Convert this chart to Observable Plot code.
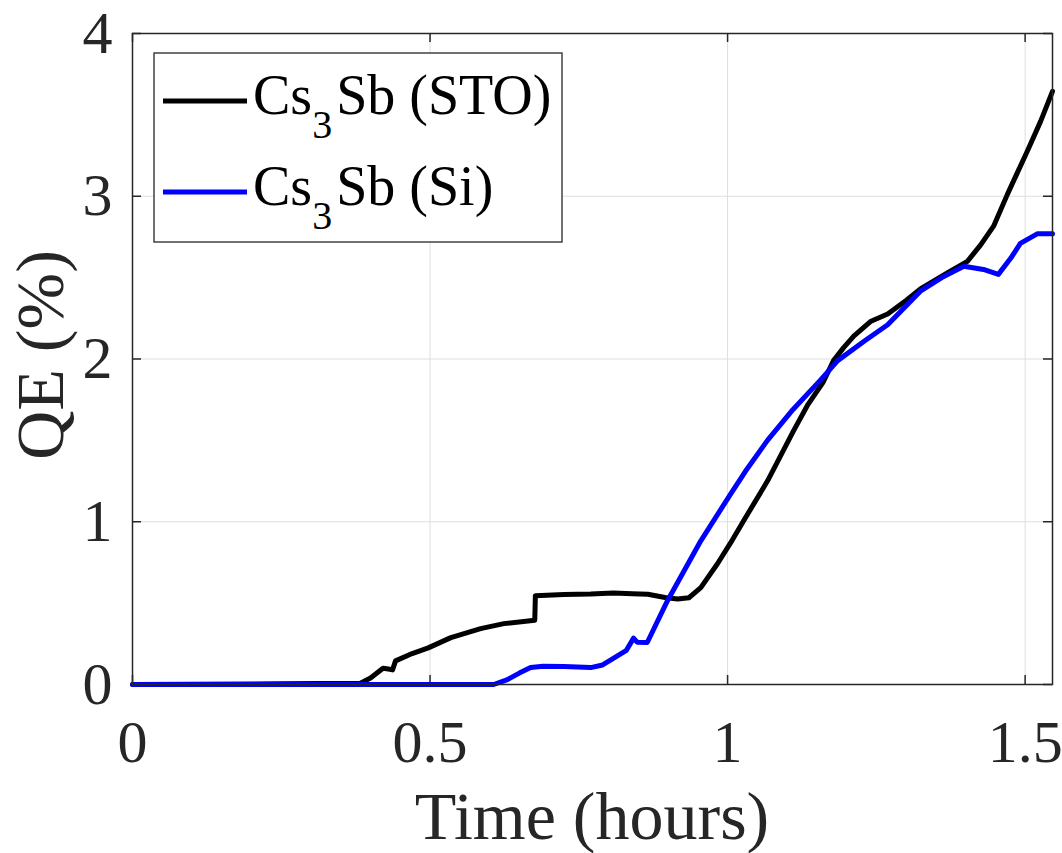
<!DOCTYPE html>
<html><head><meta charset="utf-8">
<script src="https://cdn.jsdelivr.net/npm/d3@7"></script>
<script src="https://cdn.jsdelivr.net/npm/@observablehq/plot@0.6"></script>
<style>body{margin:0;background:#fff}</style>
</head><body><div id="chart"></div>
<script>
// ---- data ----
const seriesNames = ["Cs3Sb (STO)", "Cs3Sb (Si)"];
const seriesColors = ["#000000", "#0000ff"];
const xTicks = [0, 0.5, 1, 1.5];
const yTicks = [0, 1, 2, 3, 4];
const xLabel = "Time (hours)";
const yLabel = "QE (%)";

const stoTime = [0,0.25,0.383,0.40,0.421,0.43,0.437,0.442,0.47,0.497,0.535,0.585,0.624,0.676,0.677,0.725,0.77,0.808,0.84,0.866,0.895,0.916,0.935,0.955,0.983,1.005,1.027,1.067,1.111,1.135,1.161,1.178,1.195,1.212,1.24,1.269,1.30,1.324,1.37,1.403,1.425,1.447,1.47,1.504,1.526,1.546];
const stoQE   = [0,0.004,0.008,0.04,0.10,0.095,0.09,0.145,0.19,0.225,0.288,0.343,0.374,0.395,0.546,0.553,0.556,0.562,0.558,0.555,0.535,0.525,0.533,0.595,0.742,0.87,1.006,1.25,1.56,1.72,1.86,1.99,2.07,2.14,2.23,2.276,2.36,2.43,2.53,2.60,2.70,2.816,3.01,3.28,3.46,3.644];

const siTime = [0,0.607,0.63,0.65,0.669,0.69,0.725,0.77,0.79,0.808,0.83,0.842,0.848,0.865,0.899,0.955,1.005,1.03,1.067,1.11,1.156,1.185,1.23,1.269,1.324,1.36,1.397,1.43,1.455,1.476,1.492,1.521,1.546];
const siQE   = [0,0,0.03,0.07,0.104,0.112,0.11,0.104,0.12,0.16,0.21,0.285,0.26,0.258,0.515,0.883,1.17,1.31,1.50,1.69,1.87,1.99,2.11,2.21,2.417,2.50,2.57,2.55,2.52,2.62,2.71,2.77,2.77];

const sto = stoTime.map((t,i)=>({t, qe: stoQE[i]}));
const si = siTime.map((t,i)=>({t, qe: siQE[i]}));

// ---- layout ----
const W = 1062, H = 853, mL = 132, mR = 10, mT = 33, mB = 169;
const plotH = H - mT - mB;
const plotW = W - mL - mR;
const axisColor = "#262626";
const gridColor = "#dedede";
const tickLen = 9;
const lineW = 5;
const font = "'Liberation Serif', 'Times New Roman', serif";

const chart = Plot.plot({
  width: W, height: H,
  marginLeft: mL, marginRight: mR, marginTop: mT, marginBottom: mB,
  style: {fontFamily: font, background: "#fff", color: axisColor},
  x: {domain: [0, 1.546]},
  y: {domain: [0, 4]},
  marks: [
    Plot.gridX(xTicks, {stroke: gridColor, strokeOpacity: 1, strokeWidth: 1}),
    Plot.gridY(yTicks, {stroke: gridColor, strokeOpacity: 1, strokeWidth: 1}),
    Plot.tickX(xTicks, {x: d => d, insetTop: plotH - tickLen, stroke: axisColor, strokeWidth: 1.5}),
    Plot.tickX(xTicks, {x: d => d, insetBottom: plotH - tickLen, stroke: axisColor, strokeWidth: 1.5}),
    Plot.tickY(yTicks, {y: d => d, insetRight: plotW - tickLen, stroke: axisColor, strokeWidth: 1.5}),
    Plot.tickY(yTicks, {y: d => d, insetLeft: plotW - tickLen, stroke: axisColor, strokeWidth: 1.5}),
    Plot.axisX(xTicks, {tickSize: 0, tickPadding: 35, fontSize: 60, tickFormat: d => String(d), label: null, fill: axisColor}),
    Plot.axisY(yTicks, {tickSize: 0, tickPadding: 20, fontSize: 60, tickFormat: d => String(d), label: null, fill: axisColor}),
    Plot.line(sto, {x: "t", y: "qe", stroke: seriesColors[0], strokeWidth: lineW, strokeLinejoin: "round", strokeLinecap: "round"}),
    Plot.line(si, {x: "t", y: "qe", stroke: seriesColors[1], strokeWidth: lineW, strokeLinejoin: "round", strokeLinecap: "round"}),
    Plot.frame({stroke: axisColor, strokeWidth: 1.5})
  ]
});

document.getElementById("chart").appendChild(chart);
const svg = d3.select(chart);

// axis titles
svg.append("text")
  .attr("x", mL + plotW / 2).attr("y", 839)
  .attr("text-anchor", "middle")
  .attr("font-family", font).attr("font-size", 68).attr("fill", axisColor)
  .text(xLabel);
svg.append("text")
  .attr("transform", `translate(63,355) rotate(-90)`)
  .attr("text-anchor", "middle")
  .attr("font-family", font).attr("font-size", 68).attr("fill", axisColor)
  .text(yLabel);

// legend
const lg = svg.append("g");
lg.append("rect").attr("x", 154).attr("y", 53).attr("width", 408).attr("height", 189)
  .attr("fill", "#fff").attr("stroke", axisColor).attr("stroke-width", 1.3);
const rowY = [101, 192];
const baseY = [114, 205];
seriesNames.forEach((name, i) => {
  lg.append("line").attr("x1", 163).attr("x2", 247).attr("y1", rowY[i]).attr("y2", rowY[i])
    .attr("stroke", seriesColors[i]).attr("stroke-width", lineW);
  const m = name.match(/^(Cs)(3)(.*)$/);
  const t = lg.append("text").attr("x", 253).attr("y", baseY[i])
    .attr("text-anchor", "start")
    .attr("font-family", font).attr("font-size", 56).attr("fill", "#000");
  t.append("tspan").text(m[1]);
  t.append("tspan").attr("font-size", 40).attr("dy", 24).text(m[2]);
  t.append("tspan").attr("dy", -24).attr("dx", 4).text(m[3]);
});
</script>
</body></html>
